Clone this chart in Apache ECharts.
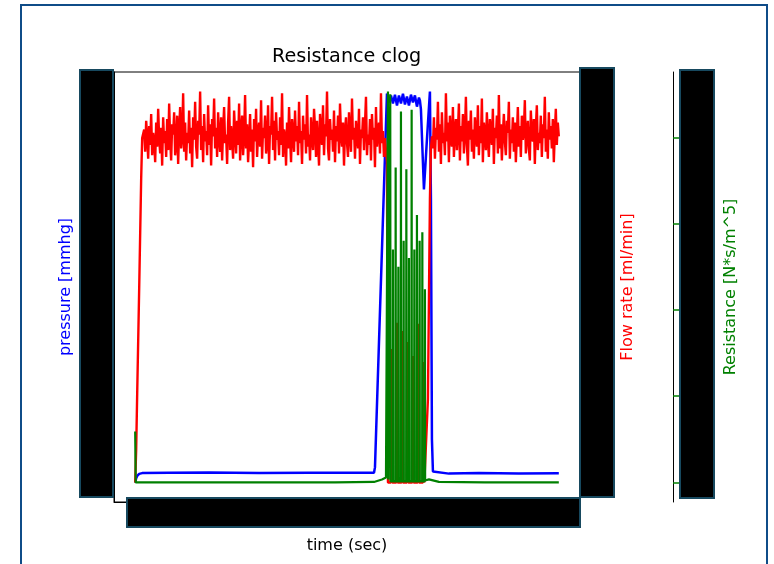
<!DOCTYPE html>
<html>
<head>
<meta charset="utf-8">
<script src="https://cdn.jsdelivr.net/npm/echarts@6/dist/echarts.min.js"></script>
<style>html,body{margin:0;padding:0;background:#fff}#chart{width:774px;height:564px}</style>
</head>
<body>
<div id="chart"></div>
<script>
// ---- data ----
const sampleStep = 0.1; // sec between flow samples in the noisy sections

// pressure [mmhg]
const pressureTime = [0, 0.1, 0.2, 0.4, 0.7, 3.4, 7.4, 12.4, 17.4, 21.4, 23.9, 24.0,
  25.2, 25.4, 25.6, 25.8, 26.0, 26.2, 26.4, 26.6, 26.8, 27.0, 27.2, 27.4, 27.6, 27.8, 28.0, 28.2, 28.4, 28.5,
  28.6, 28.9, 29.2, 29.5, 29.6, 29.7, 29.8, 30.0, 31.4, 34.4, 38.4, 42.4];
const pressureValues = [14.6, 16.2, 17.1, 17.9, 18.2, 18.3, 18.4, 18.2, 18.3, 18.3, 18.3, 20.4,
  164.2, 160.8, 163.5, 160.4, 163.8, 159.6, 163.5, 160.4, 164.2, 160.0, 163.1, 159.6, 163.8, 160.8, 163.5, 159.2, 162.7, 161.5,
  158.1, 127.3, 146.5, 165.0, 123.5, 31.2, 18.8, 18.1, 18.0, 18.2, 18.0, 18.1];

// flow rate [ml/min]
const flowRiseTime = [0, 0.1, 0.2, 0.4, 0.6, 0.7];
const flowRiseValues = [0, 19.2, 51.3, 112.5, 176.6, 200];
const flowNoiseStartA = 0.8;
const flowNoiseA = [
  199, 205, 192, 210, 201, 188, 207, 196, 214, 190, 203, 198,
  186, 209, 195, 217, 200, 191, 206, 184, 212, 197, 204, 189,
  211, 193, 220, 199, 187, 208, 202, 215, 190, 196, 213, 185,
  205, 218, 194, 200, 226, 192, 209, 187, 203, 197, 216, 191,
  206, 183, 212, 199, 221, 195, 188, 210, 202, 227, 193, 207,
  186, 214, 198, 204, 190, 219, 196, 208, 184, 211, 201, 223,
  194, 206, 189, 215, 200, 192, 212, 187, 205, 218, 197, 202,
  185, 209, 224, 193, 207, 199, 188, 216, 203, 191, 210, 196,
  220, 187, 204, 213, 190, 201, 225, 194, 208, 186, 199, 214,
  192, 205, 183, 211, 198, 217, 189, 203, 209, 195, 222, 188,
  206, 200, 213, 191, 197, 219, 185, 207, 202, 224, 193, 210,
  187, 215, 199, 204, 190, 212, 196, 226, 189, 205, 201, 184,
  209, 194, 218, 200, 186, 211, 203, 192, 216, 198, 207, 190,
  221, 197, 204, 185, 213, 199, 208, 191, 225, 195, 202, 187,
  212, 200, 193, 217, 206, 189, 210, 197, 184, 214, 203, 196,
  219, 190, 208, 201, 227, 194, 187, 211, 199, 205, 192, 216,
  186, 207, 198, 213, 191, 220, 202, 195, 209, 184, 204, 212,
  197, 189, 215, 203, 192, 223, 199, 206, 188, 210, 201, 194,
  217, 185, 205, 200, 212, 193, 208, 224, 190, 202, 196, 211,
  187, 214, 199, 206, 183, 218, 195, 203, 209, 191, 226, 197,
  204, 189, 200, 193];
const flowClogTime = [25.2, 25.3, 25.6, 25.67, 25.74, 26.13, 26.2, 26.27, 26.66, 26.73, 26.8,
  27.2, 27.27, 27.34, 27.73, 27.8, 27.87, 28.27, 28.34, 28.41, 28.8, 28.87, 28.94,
  29.1, 29.3, 29.5, 29.6];
const flowClogValues = [186, 0, 0, 77.5, 0, 0, 92.7, 0, 0, 88.0, 0,
  0, 81.6, 0, 0, 73.5, 0, 0, 92.1, 0, 0, 70.0, 0,
  0, 48.4, 165, 194];
const flowNoiseStartB = 29.7;
const flowNoiseB = [
  201, 194, 212, 188, 206, 199, 221, 192, 208, 185, 215, 197,
  203, 190, 226, 198, 209, 186, 213, 200, 195, 218, 189, 205,
  211, 193, 204, 220, 187, 207, 198, 214, 191, 202, 224, 196,
  184, 210, 199, 216, 192, 205, 188, 212, 201, 195, 219, 190,
  207, 197, 223, 186, 209, 203, 193, 215, 199, 189, 211, 204,
  196, 217, 185, 206, 200, 213, 191, 225, 194, 208, 187, 202,
  214, 198, 190, 210, 203, 221, 188, 205, 197, 212, 192, 209,
  186, 201, 218, 195, 207, 189, 213, 199, 204, 222, 191, 200,
  210, 194, 187, 216, 202, 198, 211, 185, 206, 219, 193, 203,
  197, 213, 189, 208, 200, 224, 192, 205, 188, 215, 199, 207,
  194, 211, 186, 203, 217, 196, 209, 201];

// resistance [N*s/m^5] (x 1e9)
const resistanceTime = [0, 0.05, 10, 20, 23.9, 24.7, 25.1,
  25.28, 25.3, 25.32, 25.51, 25.53, 25.55, 25.78, 25.8, 25.82, 26.05, 26.07, 26.09,
  26.32, 26.34, 26.36, 26.58, 26.6, 26.62, 26.85, 26.87, 26.89, 27.12, 27.14, 27.16,
  27.38, 27.4, 27.42, 27.65, 27.67, 27.69, 27.92, 27.94, 27.96, 28.18, 28.2, 28.22,
  28.45, 28.47, 28.49, 28.72, 28.74, 28.76, 28.98, 29.0, 29.02,
  29.4, 30.4, 35, 42.4];
const resistanceValues = [0.59, 0, 0, 0, 0.006, 0.035, 0.058,
  0.046, 4.53, 0.035, 0.023, 4.50, 0.012, 0.012, 2.70, 0.012, 0.012, 3.65, 0.012,
  0.012, 2.50, 0.012, 0.012, 4.30, 0.012, 0.012, 2.80, 0.012, 0.012, 3.63, 0.012,
  0.012, 2.60, 0.012, 0.012, 4.32, 0.012, 0.012, 2.70, 0.012, 0.012, 3.10, 0.012,
  0.012, 2.80, 0.012, 0.012, 2.90, 0.012, 0.012, 2.24, 0.023,
  0.035, 0.006, 0, 0];

const pressureTicks = [20, 40, 60, 80, 100, 120, 140, 160];
const resistanceTicks = [0, 1, 2, 3, 4];

// ---- build series data ----
function zip(t, v) { return t.map((x, i) => [x, v[i]]); }
function sampled(start, v) { return v.map((y, i) => [+(start + i * sampleStep).toFixed(3), y]); }

const pressureData = zip(pressureTime, pressureValues);
const flowData = [].concat(
  zip(flowRiseTime, flowRiseValues),
  sampled(flowNoiseStartA, flowNoiseA),
  zip(flowClogTime, flowClogValues),
  sampled(flowNoiseStartB, flowNoiseB)
);
const resistanceData = zip(resistanceTime, resistanceValues);

const pad = v => v.min - 0.05 * (v.max - v.min);
const padMax = v => v.max + 0.05 * (v.max - v.min);
const FONT = 'DejaVu Sans';
const boxStroke = '#17495f';

const chart = echarts.init(document.getElementById('chart'), null, { renderer: 'canvas' });
chart.setOption({
  animation: false,
  backgroundColor: '#fff',
  title: {
    text: 'Resistance clog',
    left: 272, top: 48, padding: 0,
    textStyle: { fontFamily: FONT, fontSize: 19.2, fontWeight: 'normal', color: '#000' }
  },
  grid: { left: 114, top: 72, right: 194, bottom: 62, show: true, borderColor: '#000', borderWidth: 1, backgroundColor: 'transparent' },
  xAxis: {
    type: 'value', min: pad, max: padMax,
    name: 'time (sec)', nameLocation: 'middle', nameGap: 36,
    nameTextStyle: { fontFamily: FONT, fontSize: 16, color: '#000' },
    axisLine: { show: true, onZero: false, lineStyle: { color: '#000', width: 1 } },
    axisTick: { show: false }, axisLabel: { show: false }, splitLine: { show: false }
  },
  yAxis: [
    {
      type: 'value', position: 'left', min: pad, max: padMax,
      name: 'pressure [mmhg]', nameLocation: 'middle', nameGap: 40,
      nameTextStyle: { fontFamily: FONT, fontSize: 16, color: '#0000ff' },
      axisLine: { show: true, onZero: false, lineStyle: { color: '#000', width: 1 } },
      axisTick: { show: true, length: 5, customValues: pressureTicks, lineStyle: { color: '#0000ff', width: 1 } },
      axisLabel: { show: false }, splitLine: { show: false }
    },
    {
      type: 'value', position: 'right', min: pad, max: padMax,
      name: 'Flow rate [ml/min]', nameLocation: 'middle', nameGap: 40,
      nameTextStyle: { fontFamily: FONT, fontSize: 16, color: '#ff0000' },
      axisLine: { show: true, onZero: false, lineStyle: { color: '#000', width: 1 } },
      axisTick: { show: false }, axisLabel: { show: false }, splitLine: { show: false }
    },
    {
      type: 'value', position: 'right', offset: 93, min: pad, max: padMax,
      name: 'Resistance [N*s/m^5]', nameLocation: 'middle', nameGap: 50,
      nameTextStyle: { fontFamily: FONT, fontSize: 16, color: '#008000' },
      axisLine: { show: true, onZero: false, lineStyle: { color: '#000', width: 1 } },
      axisTick: { show: true, length: 6, customValues: resistanceTicks, lineStyle: { color: '#008000', width: 1.5 } },
      axisLabel: { show: false }, splitLine: { show: false }
    }
  ],
  series: [
    { type: 'line', yAxisIndex: 0, data: pressureData, showSymbol: false, symbol: 'none',
      lineStyle: { color: '#0000ff', width: 2.5 }, z: 2 },
    { type: 'line', yAxisIndex: 1, data: flowData, showSymbol: false, symbol: 'none',
      lineStyle: { color: '#ff0000', width: 2.4 }, z: 3 },
    { type: 'line', yAxisIndex: 2, data: resistanceData, showSymbol: false, symbol: 'none',
      lineStyle: { color: '#008000', width: 2.2 }, z: 4 }
  ],
  graphic: [
    { type: 'rect', z: 100, shape: { x: 21, y: 5, width: 746, height: 640 },
      style: { fill: 'none', stroke: '#0f4c88', lineWidth: 2 } },
    { type: 'rect', z: 100, shape: { x: 80, y: 70, width: 33, height: 427 },
      style: { fill: '#000', stroke: boxStroke, lineWidth: 2 } },
    { type: 'rect', z: 100, shape: { x: 127, y: 498, width: 453, height: 29 },
      style: { fill: '#000', stroke: boxStroke, lineWidth: 2 } },
    { type: 'rect', z: 100, shape: { x: 580, y: 68, width: 34, height: 429 },
      style: { fill: '#000', stroke: boxStroke, lineWidth: 2 } },
    { type: 'rect', z: 100, shape: { x: 680, y: 70, width: 34, height: 428 },
      style: { fill: '#000', stroke: boxStroke, lineWidth: 2 } }
  ]
});
</script>
</body>
</html>
